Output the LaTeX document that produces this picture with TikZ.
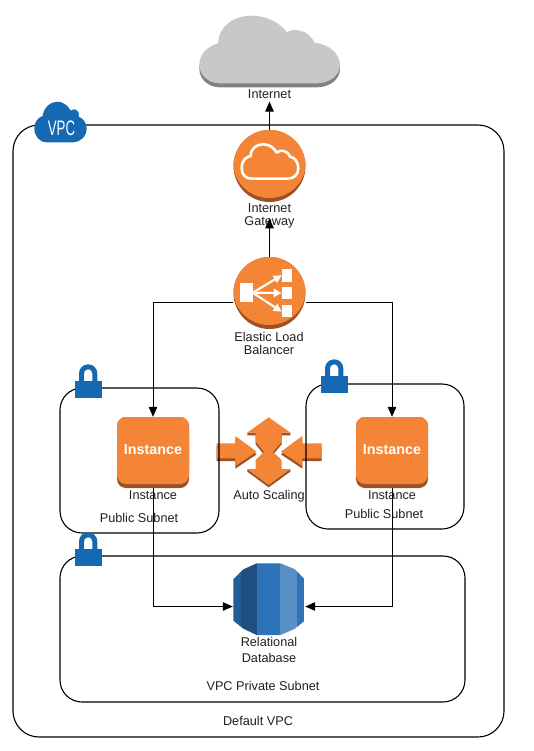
\documentclass[tikz,border=0pt]{standalone}
\usepackage{fontspec}
\usepackage{graphicx}
\setmainfont{Liberation Sans}
\usetikzlibrary{arrows.meta}
\definecolor{awsorange}{HTML}{F58536}
\definecolor{awsshade}{HTML}{9D5025}
\definecolor{awsblue}{HTML}{1569B3}
\definecolor{cloudgrey}{HTML}{C7C8CA}
\definecolor{cloudshade}{HTML}{808285}
\definecolor{dbdark}{HTML}{1F4F7F}
\definecolor{dbmid}{HTML}{2E73B8}
\definecolor{dbside}{HTML}{245E98}
\definecolor{dblight}{HTML}{5A8FC6}
\definecolor{inkcol}{HTML}{231F20}
\newcommand{\bigcloudpath}{(58,195) .. controls (58,160) and (85,138) .. (115,130)
 .. controls (115,80) and (160,47) .. (215,47)
 .. controls (260,47) and (300,68) .. (320,97)
 .. controls (335,85) and (385,85) .. (403,128)
 .. controls (445,132) and (480,160) .. (480,195)
 .. controls (480,225) and (450,250) .. (410,250) -- (120,250)
 .. controls (85,250) and (58,225) .. (58,195) -- cycle}
\tikzset{
 lbl/.style={font=\fontsize{12.7}{13}\selectfont, text=inkcol, align=center, inner sep=0pt},
 conn/.style={draw=black, line width=1pt, -{Triangle[length=10pt,width=8.5pt]}},
 region/.style={draw=black, line width=1.1pt, rounded corners=#1},
 region/.default=22pt,
 zoomed/.style={x=0.33333pt,y=-0.33333pt},
 roundicon/.style={circle, minimum size=72pt, inner sep=0pt, fill=awsshade,
   path picture={\fill[awsorange] ([yshift=2pt]path picture bounding box.center) ellipse [x radius=36pt, y radius=34pt];}},
 instbox/.style={minimum width=72pt, minimum height=71pt, inner sep=0pt, rounded corners=9pt, fill=awsshade,
   text=white, font=\fontsize{14.3}{16}\bfseries\selectfont,
   path picture={\fill[awsorange, rounded corners=9pt] (path picture bounding box.north west) rectangle ([yshift=4pt]path picture bounding box.south east);}},
 iconbox/.style={inner sep=0pt, minimum width=#1, minimum height=#1},
 elbarrow/.style={white, line width=2.1pt, -{Triangle[length=8pt,width=8pt]}},
 lockpic/.pic={
   \draw[awsblue, line width=5pt] (7,18) -- (7,8.5) arc[start angle=180,end angle=360,radius=6.65] -- (20.3,18);
   \fill[awsblue] (0,16) rectangle (27.5,33);
 }
}
\begin{document}
\begin{tikzpicture}[x=1pt,y=-1pt]
\useasboundingbox[fill=white] (0,0) rectangle (534,751);

% Auto Scaling arrows
\begin{scope}[shift={(210,355)},zoomed]
 \fill[awsshade] (20,273) -- (76,273) -- (76,251) -- (140,298) -- (76,341) -- (76,318) -- (20,318) -- cycle;
 \fill[awsorange] (20,265) -- (76,265) -- (76,243) -- (140,290) -- (76,333) -- (76,310) -- (20,310) -- cycle;
 \fill[awsshade] (335,273) -- (277,273) -- (277,251) -- (213,298) -- (277,341) -- (277,318) -- (335,318) -- cycle;
 \fill[awsorange] (335,265) -- (277,265) -- (277,243) -- (213,290) -- (277,333) -- (277,310) -- (335,310) -- cycle;
 \fill[awsshade] (112,233) -- (241,233) -- (241,241) -- (215,241) -- (215,268) -- (189,299) -- (162,299) -- (137,268) -- (137,241) -- (112,241) -- cycle;
 \fill[awsshade] (112,342) -- (176,389) -- (241,342) -- (241,350) -- (176,397) -- (112,350) -- cycle;
 \fill[awsorange] (176,187) -- (241,233) -- (215,233) -- (215,260) -- (189,291) -- (215,315) -- (215,342) -- (241,342)
   -- (176,389) -- (112,342) -- (137,342) -- (137,315) -- (162,291) -- (137,260) -- (137,233) -- (112,233) -- cycle;
\end{scope}

% Regions
\draw[region=26pt] (13,125) rectangle (504,737);
\draw[region] (60,388) rectangle (219,533);
\draw[region] (306,384) rectangle (464,529);
\draw[region] (60,556) rectangle (465,702);

% Locks
\pic (lockleft) at (74.5,365) {lockpic};
\pic (lockright) at (320.5,360) {lockpic};
\pic (lockdb) at (74.5,533) {lockpic};

% VPC badge
\begin{scope}[shift={(0,90)},zoomed]
 \fill[awsblue] (103,115) .. controls (103,95) and (115,82) .. (128,78)
   .. controls (130,55) and (150,35) .. (172,35)
   .. controls (190,35) and (205,48) .. (212,62)
   .. controls (222,52) and (240,60) .. (236,80)
   .. controls (250,85) and (260,100) .. (260,115)
   .. controls (260,140) and (240,157) .. (220,157) -- (140,157)
   .. controls (118,157) and (103,138) .. (103,115) -- cycle;
\end{scope}
\node[inner sep=0pt, text=white, font=\fontsize{21}{22}\selectfont] (vpcbadge) at (61.5,128.5) {\scalebox{.63}[1]{VPC}};

% Internet cloud
\node[iconbox=71pt, minimum width=141pt] (internet) at (269.5,51.5) {};
\begin{scope}[shift={(180,0)},zoomed]
 \fill[cloudshade] [yshift=-4pt] \bigcloudpath;
 \fill[cloudgrey] \bigcloudpath;
\end{scope}
\node[lbl] (internetlabel) at (269.5,94) {Internet};

% Internet Gateway
\node[roundicon] (gw) at (269.5,166) {};
\begin{scope}[shift={(180,0)},zoomed]
 \draw[white, line width=2.6pt, line join=round] (185,505) .. controls (185,480) and (200,470) .. (212,468)
   .. controls (212,445) and (230,433) .. (250,433)
   .. controls (270,433) and (283,445) .. (290,458)
   .. controls (300,448) and (322,450) .. (330,470)
   .. controls (345,472) and (355,488) .. (355,505)
   .. controls (355,525) and (340,536) .. (325,536) -- (215,536)
   .. controls (198,536) and (185,525) .. (185,505) -- cycle;
\end{scope}
\node[lbl] (gwlabel) at (269.5,216) {Internet\\Gateway};

% Elastic Load Balancer
\node[roundicon] (elb) at (269.5,293) {};
\begin{scope}[shift={(200,250)},zoomed]
 \fill[white] (120,100) rectangle (160,155);
 \fill[white] (245,58) rectangle (277,97);
 \fill[white] (245,112) rectangle (277,147);
 \fill[white] (245,165) rectangle (277,200);
 \draw[elbarrow] (158,128) -- (245,76);
 \draw[elbarrow] (158,128) -- (245,129);
 \draw[elbarrow] (158,128) -- (245,185);
\end{scope}
\node[lbl] (elblabel) at (269,343.5) {Elastic Load\\Balancer};

% Instances
\node[instbox] (instleft) at (153,452.5) {\raisebox{6.5pt}{Instance}};
\node[instbox] (instright) at (392,452.5) {\raisebox{6.5pt}{Instance}};
\node[lbl] (instleftlabel) at (153,495) {Instance};
\node[lbl] (instrightlabel) at (392,495) {Instance};
\node[lbl] (subleft) at (139,518) {Public Subnet};
\node[lbl] (subright) at (384,514) {Public Subnet};
\node[lbl] (autolabel) at (269,496) {Auto Scaling};

% Relational Database
\node[iconbox=72pt] (db) at (269,599) {};
\begin{scope}[shift={(200,550)},zoomed]
 \begin{scope}
  \clip (100,88) -- (130,58) -- (170,40) -- (242,40) -- (285,58) -- (314,88) -- (314,212) -- (285,236) -- (242,255) -- (170,255) -- (130,236) -- (100,212) -- cycle;
  \fill[dbside] (100,30) rectangle (122,265);
  \fill[dbdark] (122,30) rectangle (172,265);
  \fill[dbmid] (172,30) rectangle (240,265);
  \fill[dblight] (240,30) rectangle (290,265);
  \fill[dbmid] (290,30) rectangle (314,265);
 \end{scope}
\end{scope}
\node[lbl, font=\fontsize{12.7}{16}\selectfont] (dblabel) at (269,650) {Relational\\Database};
\node[lbl] (privlabel) at (263,686) {VPC Private Subnet};
\node[lbl] (vpclabel) at (258,721) {Default VPC};

% Connectors
\draw[conn] (gw.north) -- ([yshift=-3pt]internetlabel.south);
\draw[conn] (elb.north) -- ([yshift=10pt]gwlabel.south);
\draw[conn] ([yshift=-9pt]elb.west) -| (instleft.north);
\draw[conn] ([yshift=-9pt]elb.east) -| (instright.north);
\draw[conn] (instleft.south) |- ([yshift=-7.5pt]db.west);
\draw[conn] (instright.south) |- ([yshift=-7.5pt]db.east);
\end{tikzpicture}
\end{document}
